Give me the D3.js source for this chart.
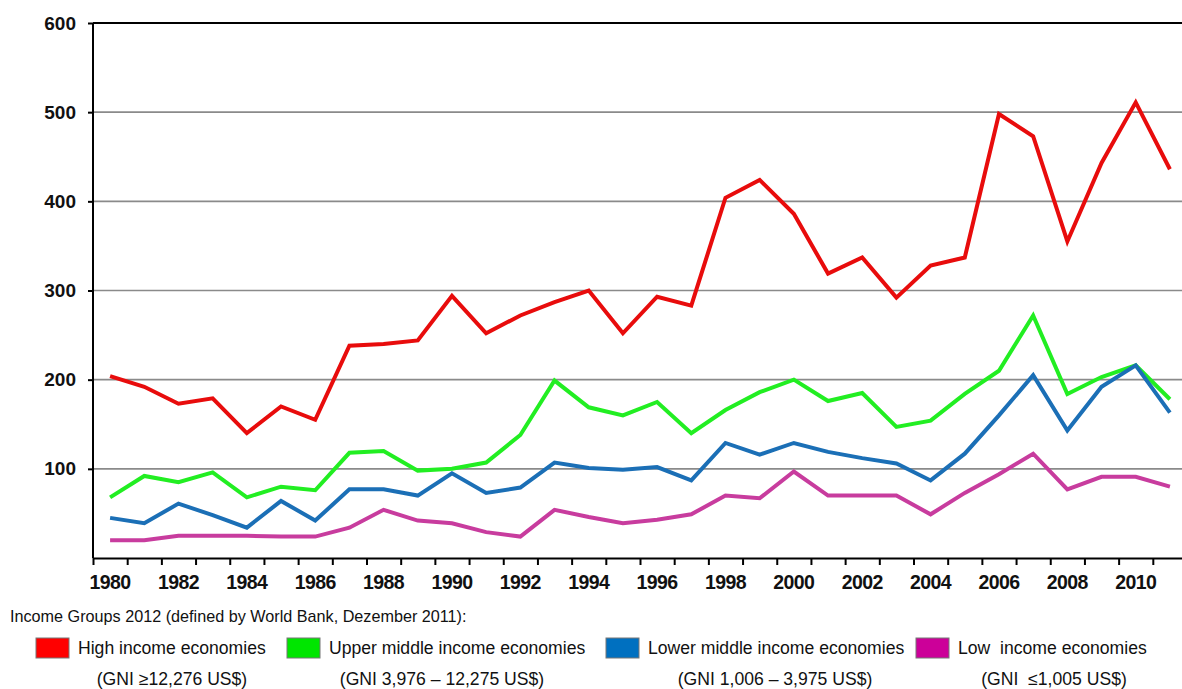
<!DOCTYPE html>
<html>
<head>
<meta charset="utf-8">
<script src="https://cdn.jsdelivr.net/npm/d3@7"></script>
<style>
  body { margin: 0; background: #fff; }
  svg { display: block; font-family: "Liberation Sans", Arial, sans-serif; }
  .axis path, .axis line { stroke: #000; stroke-width: 2px; }
  .axis text { font-size: 19px; font-weight: bold; fill: #111; }
  .legend text { font-size: 17.6px; fill: #111; }
</style>
</head>
<body>
<div id="chart"></div>
<script>
// years on the x axis
var years = d3.range(1980, 2012);
var yTicks = [100, 200, 300, 400, 500, 600];

var seriesNames = ["High income economies", "Upper middle income economies",
  "Lower middle income economies", "Low  income economies"];
var seriesNotes = ["(GNI \u226512,276 US$)", "(GNI 3,976 \u2013 12,275 US$)",
  "(GNI 1,006 \u2013 3,975 US$)", "(GNI  \u22641,005 US$)"];

var high = [204, 192, 173, 179, 140, 170, 155, 238, 240, 244, 294, 252, 272, 287, 300, 252,
  293, 283, 404, 424, 386, 319, 337, 292, 328, 337, 498, 473, 355, 443, 511, 436];
var upperMiddle = [68, 92, 85, 96, 68, 80, 76, 118, 120, 98, 100, 107, 138, 199, 169, 160,
  175, 140, 166, 186, 200, 176, 185, 147, 154, 184, 210, 272, 184, 203, 216, 178];
var lowerMiddle = [45, 39, 61, 48, 34, 64, 42, 77, 77, 70, 95, 73, 79, 107, 101, 99,
  102, 87, 129, 116, 129, 119, 112, 106, 87, 117, 160, 205, 143, 192, 216, 163];
var low = [20, 20, 25, 25, 25, 24, 24, 34, 54, 42, 39, 29, 24, 54, 46, 39,
  43, 49, 70, 67, 97, 70, 70, 70, 49, 73, 94, 117, 77, 91, 91, 80];

var lineColors = ["#e80c0c", "#22ee22", "#1b6fb6", "#c83c9e"];
var swatchColors = ["#ff0000", "#00e600", "#0070c0", "#cc0099"];

(function linechart() {
  var width = 1182, height = 689;
  var margin = { left: 93, right: 1187, top: 23, bottom: 558 };

  var x = d3.scaleLinear().domain([1979.5, 2011.5]).range([margin.left, margin.right]);
  var y = d3.scaleLinear().domain([0, 600]).range([margin.bottom, margin.top]);

  var svg = d3.select("#chart").append("svg")
    .attr("width", width)
    .attr("height", height);

  // grid lines (top one is black like a frame)
  svg.append("g").selectAll("line")
    .data(yTicks)
    .enter().append("line")
    .attr("x1", margin.left).attr("x2", margin.right)
    .attr("y1", function(d) { return y(d); })
    .attr("y2", function(d) { return y(d); })
    .attr("stroke", function(d) { return d === 600 ? "#000" : "#8a8a8a"; })
    .attr("stroke-width", function(d) { return d === 600 ? 2 : 1.6; });

  // lines
  var allSeries = [high, upperMiddle, lowerMiddle, low];
  var line = d3.line()
    .x(function(d, i) { return x(years[i]); })
    .y(function(d) { return y(d); });

  svg.append("g").selectAll("path")
    .data(allSeries)
    .enter().append("path")
    .attr("d", line)
    .attr("fill", "none")
    .attr("stroke", function(d, i) { return lineColors[i]; })
    .attr("stroke-width", 4)
    .attr("stroke-linejoin", "miter");

  // y axis
  var yAxis = svg.append("g")
    .attr("class", "axis")
    .attr("transform", "translate(" + margin.left + ",0)")
    .call(d3.axisLeft(y).tickValues(yTicks).tickSize(5).tickSizeOuter(0).tickPadding(12));
  yAxis.select(".domain").attr("d", "M0," + margin.bottom + "V" + margin.top);

  // x axis: ticks on year boundaries
  var bounds = d3.range(1979.5, 2012.5, 1);
  svg.append("g")
    .attr("class", "axis")
    .attr("transform", "translate(0," + margin.bottom + ")")
    .call(d3.axisBottom(x).tickValues(bounds).tickSize(7).tickSizeOuter(0).tickFormat(""));

  svg.append("g")
    .attr("class", "axis")
    .selectAll("text")
    .data(years.filter(function(d) { return d % 2 === 0; }))
    .enter().append("text")
    .attr("x", function(d) { return x(d); })
    .attr("y", 589)
    .attr("text-anchor", "middle")
    .attr("letter-spacing", "-0.6px")
    .style("font-size", "19.5px")
    .text(function(d) { return d; });

  // legend
  var legend = svg.append("g").attr("class", "legend");

  legend.append("text")
    .attr("x", 10)
    .attr("y", 622)
    .style("font-size", "16.2px")
    .text("Income Groups 2012 (defined by World Bank, Dezember 2011):");

  var swatchX = [36, 287, 606, 916];
  var noteX = [172, 442, 775, 1054];

  var items = legend.selectAll(".item")
    .data(seriesNames)
    .enter().append("g")
    .attr("class", "item");

  items.append("rect")
    .attr("x", function(d, i) { return swatchX[i]; })
    .attr("y", 638)
    .attr("width", 33)
    .attr("height", 20)
    .attr("fill", function(d, i) { return swatchColors[i]; })
    .attr("stroke", "#777")
    .attr("stroke-width", 1);

  items.append("text")
    .attr("x", function(d, i) { return swatchX[i] + 42; })
    .attr("y", 654)
    .style("white-space", "pre")
    .text(function(d) { return d; });

  items.append("text")
    .attr("x", function(d, i) { return noteX[i]; })
    .attr("y", 685)
    .attr("text-anchor", "middle")
    .style("white-space", "pre")
    .text(function(d, i) { return seriesNotes[i]; });
})();
</script>
</body>
</html>
